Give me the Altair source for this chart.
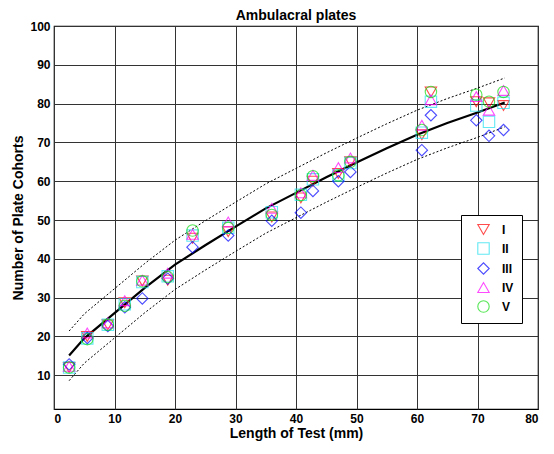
import altair as alt
import pandas as pd

# ---- data ----
series_names = ["I", "II", "III", "IV", "V"]
test_length = [2.5, 5.5, 8.9, 11.7, 14.6, 18.8, 22.9, 28.8, 36.0, 40.8, 42.8, 47.0, 49.0, 60.8, 62.3, 69.8, 71.9, 74.3]
cohorts_I   = [12.0, 20.0, 23.0, 28.7, 34.3, 34.5, 45.3, 47.0, 50.8, 55.7, 60.0, 62.0, 65.0, 72.0, 83.0, 80.5, 80.2, 79.5]
cohorts_II  = [12.0, 19.5, 23.0, 28.3, 34.0, 35.5, 46.0, 48.0, 52.0, 56.5, 60.5, 61.5, 64.7, 72.5, 80.5, 79.5, 75.3, 80.2]
cohorts_III = [12.8, 19.6, 22.7, 27.5, 29.8, 34.9, 43.0, 46.0, 49.8, 51.9, 57.5, 60.0, 62.4, 68.0, 77.0, 75.7, 71.7, 73.2]
cohorts_IV  = [12.3, 20.9, 23.5, 29.2, 34.5, 36.3, 46.3, 49.5, 53.0, 57.0, 61.5, 63.5, 66.0, 74.4, 81.0, 81.8, 78.3, 83.4]
cohorts_V   = [12.0, 19.3, 23.0, 27.9, 34.2, 35.3, 47.3, 48.0, 51.3, 56.4, 61.3, 61.5, 65.0, 73.2, 83.0, 82.3, 80.5, 83.0]

fit_x     = [2.5, 5, 10, 15, 20, 25, 30, 35, 40, 45, 50, 55, 60, 65, 70, 74.5]
fit_y     = [15.1, 19.5, 26.0, 32.5, 38.5, 43.5, 48.3, 53.0, 57.0, 61.0, 64.8, 68.5, 72.0, 75.0, 77.7, 80.3]
fit_upper = [21.4, 25.8, 32.3, 38.8, 44.8, 49.8, 54.6, 59.3, 63.3, 67.3, 71.1, 74.8, 78.3, 81.3, 84.0, 86.6]
fit_lower = [8.6, 13.1, 19.6, 26.1, 32.1, 37.1, 41.9, 46.6, 50.6, 54.6, 58.4, 62.1, 65.6, 68.6, 71.3, 74.0]

shapes = ["triangle-down", "square", "diamond", "triangle-up", "circle"]
colors = ["#ff0000", "#22e0f0", "#0000ff", "#ff00ff", "#11dd11"]

all_series = [cohorts_I, cohorts_II, cohorts_III, cohorts_IV, cohorts_V]
rows = []
for name, vals in zip(series_names, all_series):
    for xv, yv in zip(test_length, vals):
        rows.append({"x": xv, "y": yv, "series": name})
pts = pd.DataFrame(rows)
fit = pd.DataFrame({"x": fit_x, "y": fit_y, "up": fit_upper, "lo": fit_lower})

FONT = "Liberation Sans"

xs = alt.Scale(domain=[0, 80], nice=False)
ys = alt.Scale(domain=[1.3, 100], nice=False)

xaxis = alt.Axis(title="Length of Test (mm)", values=list(range(0, 81, 10)), format="d",
                 grid=True, ticks=False, labelPadding=4, titlePadding=2)
yaxis = alt.Axis(title="Number of Plate Cohorts", values=list(range(10, 101, 10)), format="d",
                 grid=True, ticks=False, labelPadding=4, titlePadding=4)

base = alt.Chart(fit)
curve = base.mark_line(color="black", strokeWidth=2.2).encode(
    x=alt.X("x:Q", scale=xs, axis=xaxis), y=alt.Y("y:Q", scale=ys, axis=yaxis))
upper = base.mark_line(color="black", strokeWidth=1, strokeDash=[2, 2]).encode(
    x=alt.X("x:Q", scale=xs), y=alt.Y("up:Q", scale=ys))
lower = base.mark_line(color="black", strokeWidth=1, strokeDash=[2, 2]).encode(
    x=alt.X("x:Q", scale=xs), y=alt.Y("lo:Q", scale=ys))

legend = alt.Legend(title=None, orient="none", legendX=407, legendY=189,
                    padding=8, rowPadding=3, strokeColor="black",
                    fillColor="white", labelFontSize=12, labelFontWeight="bold",
                    labelFont=FONT, symbolSize=130, symbolStrokeWidth=1.1,
                    symbolOffset=8, labelOffset=12)

points = alt.Chart(pts).mark_point(filled=False, size=130, strokeWidth=1.1).encode(
    x=alt.X("x:Q", scale=xs),
    y=alt.Y("y:Q", scale=ys),
    shape=alt.Shape("series:N", scale=alt.Scale(domain=series_names, range=shapes), legend=legend),
    color=alt.Color("series:N", scale=alt.Scale(domain=series_names, range=colors), legend=legend),
)

chart = alt.layer(upper, lower, curve, points).properties(
    width=484, height=383,
    title=alt.TitleParams("Ambulacral plates", fontSize=14, fontWeight="bold", font=FONT, offset=-3),
    autosize=alt.AutoSizeParams(type="none"),
    padding={"left": 46, "top": 18, "right": 8, "bottom": 32},
).configure_view(stroke="black", strokeWidth=1.2).configure_axis(
    labelFont=FONT, labelFontSize=12, labelFontWeight="bold", labelColor="black",
    titleFont=FONT, titleFontSize=14, titleFontWeight="bold", titleColor="black",
    gridColor="#333333", gridWidth=1, gridOpacity=1, domain=False,
)

chart.save("out.html", embed_options={"renderer": "svg", "actions": False})
